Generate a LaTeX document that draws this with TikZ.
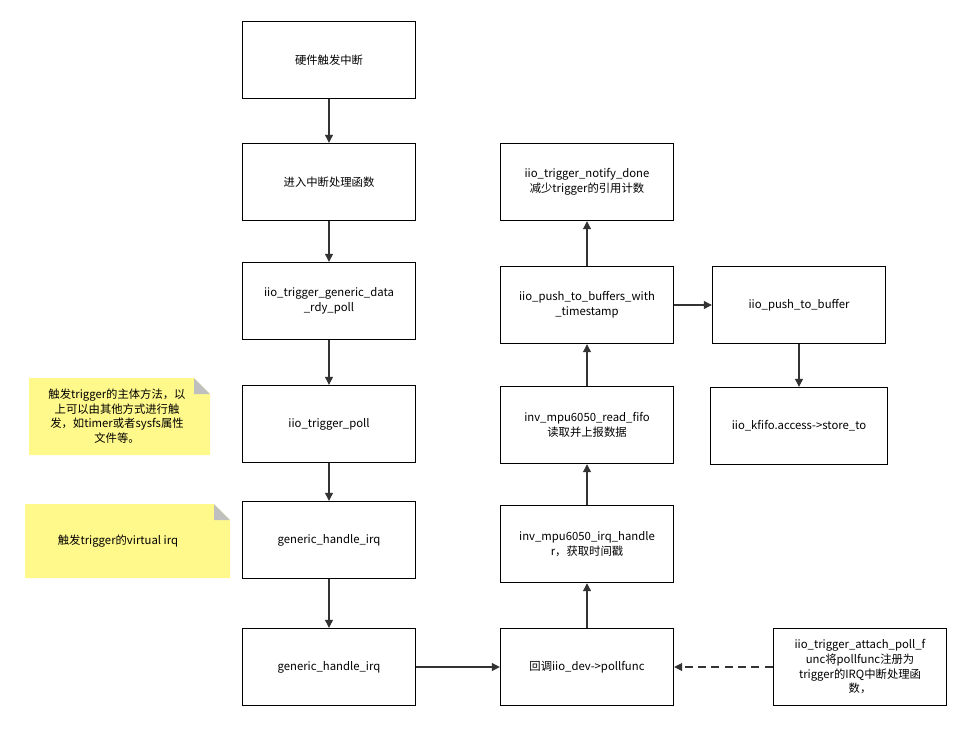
\documentclass[tikz,border=0pt]{standalone}
\usepackage{fontspec}
\setmainfont{Noto Sans CJK SC}
\usetikzlibrary{positioning, arrows.meta}

\begin{document}
\begin{tikzpicture}[
			x=0.75pt, y=-0.75pt,
			font=\fontsize{8.5}{11}\selectfont,
			element/.style={
				rectangle,
				draw=black, thick,
				minimum width=130pt,
				minimum height=58pt,
				align=center,
				inner sep=2pt
			},
			note/.style={
				rectangle,
				align=center,
				inner sep=2pt
			},
			arrow/.style={
				-{Triangle[length=6pt,width=6pt]},
				thick, draw=black!80
			},
			>=latex]

			\useasboundingbox (0,0) rectangle (973,733);

			%%% left column
			\node [element] (irqHw) at (329,60) {硬件触发中断};
			\node [element] (irqEnter) at (329,182) {进入中断处理函数};
			\node [element] (rdyPoll) at (329,301) {iio\_trigger\_generic\_data\\\_rdy\_poll};
			\node [element] (trigPoll) at (329,424) {iio\_trigger\_poll};
			\node [element] (handleA) at (329,540) {generic\_handle\_irq};
			\node [element] (handleB) at (329,667) {generic\_handle\_irq};

			%%% middle column
			\node [element] (callback) at (587,667) {回调iio\_dev->pollfunc};
			\node [element] (irqHandler) at (587,544) {inv\_mpu6050\_irq\_handle\\r，获取时间戳};
			\node [element] (readFifo) at (587,425) {inv\_mpu6050\_read\_fifo\\读取并上报数据};
			\node [element] (pushTs) at (587,305) {iio\_push\_to\_buffers\_with\\\_timestamp};
			\node [element] (notifyDone) at (587,182) {iio\_trigger\_notify\_done\\减少trigger的引用计数};

			%%% right column
			\node [element] (pushBuf) at (799,305) {iio\_push\_to\_buffer};
			\node [element, minimum width=133pt] (kfifo) at (799,426) {iio\_kfifo.access->store\_to};
			\node [element] (attach) at (860,667) {iio\_trigger\_attach\_poll\_f\\unc将pollfunc注册为\\trigger的IRQ中断处理函\\数，};

			%%% notes
			\fill [yellow!45] (29,378) -- (194,378) -- (210,394) -- (210,455) -- (29,455) -- cycle;
			\fill [black!25] (194,378) -- (194,394) -- (210,394) -- cycle;
			\node [note] (noteA) at (117,416) {触发trigger的主体方法，以\\上可以由其他方式进行触\\发，如timer或者sysfs属性\\文件等。};
			\fill [yellow!45] (25,504) -- (214,504) -- (230,520) -- (230,578) -- (25,578) -- cycle;
			\fill [black!25] (214,504) -- (214,520) -- (230,520) -- cycle;
			\node [note] (noteB) at (118,541) {触发trigger的virtual irq};

			%%% connectors
			\draw [arrow] (irqHw) -- (irqEnter);
			\draw [arrow] (irqEnter) -- (rdyPoll);
			\draw [arrow] (rdyPoll) -- (trigPoll);
			\draw [arrow] (trigPoll) -- (handleA);
			\draw [arrow] (handleA) -- (handleB);
			\draw [arrow] (handleB) -- (callback);
			\draw [arrow] (callback) -- (irqHandler);
			\draw [arrow] (irqHandler) -- (readFifo);
			\draw [arrow] (readFifo) -- (pushTs);
			\draw [arrow] (pushTs) -- (notifyDone);
			\draw [arrow] (pushTs) -- (pushBuf);
			\draw [arrow] (pushBuf) -- (kfifo);
			\draw [arrow, dashed, dash pattern=on 6pt off 4pt] (attach) -- (callback);

		\end{tikzpicture}
\end{document}
